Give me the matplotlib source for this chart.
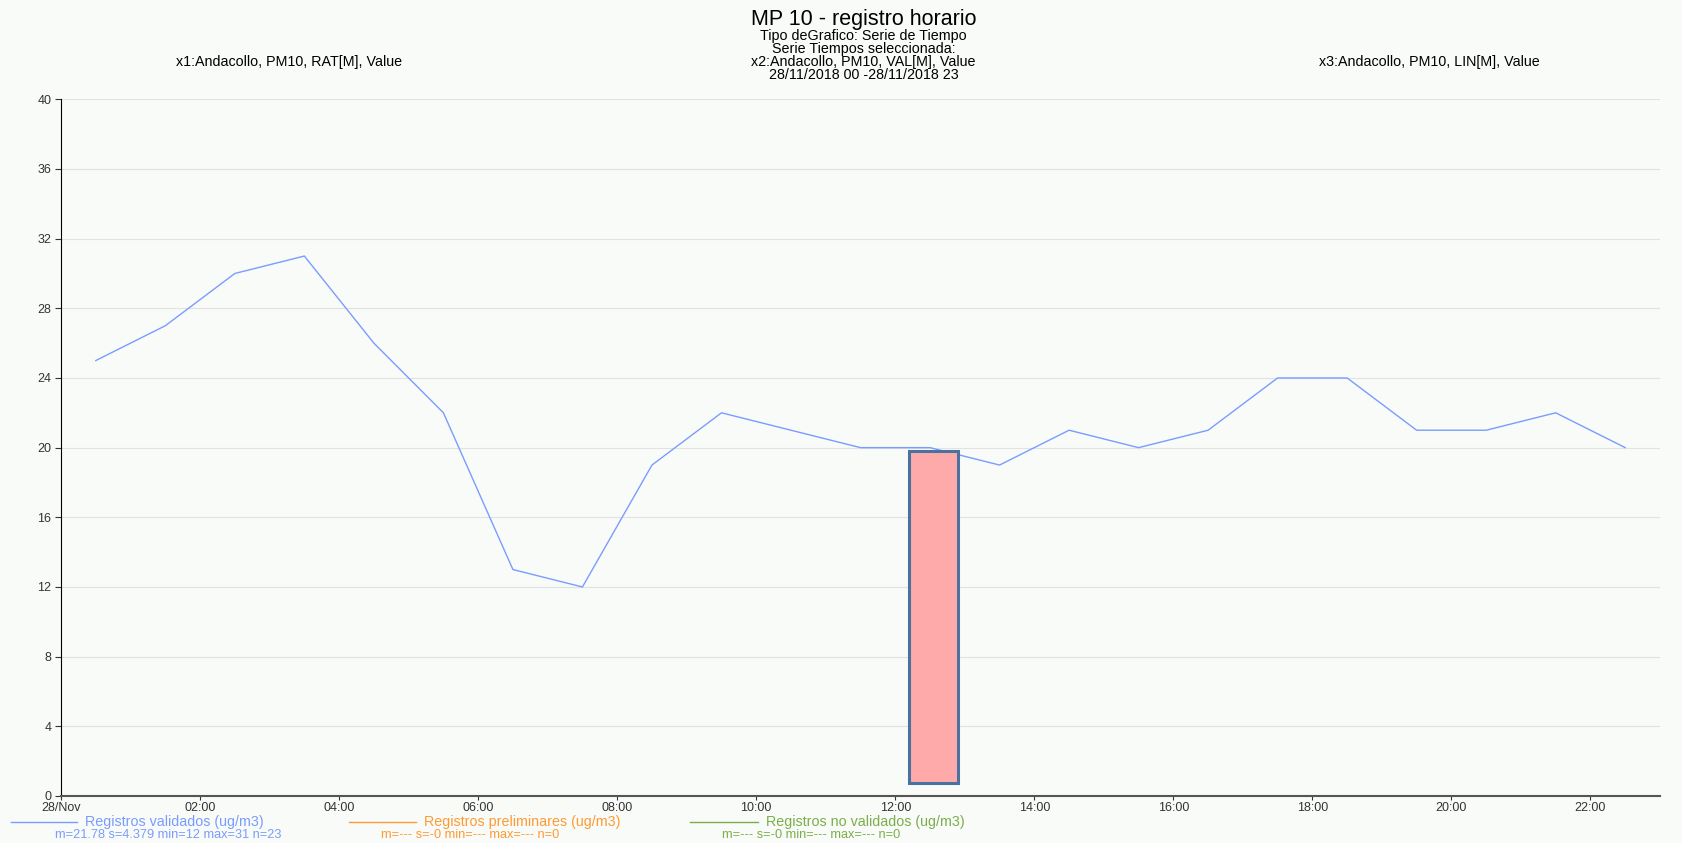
import matplotlib
matplotlib.use("Agg")
import matplotlib.pyplot as plt
import matplotlib.dates as mdates
from matplotlib.patches import Rectangle
from matplotlib.lines import Line2D
import pandas as pd

plt.rcParams['font.family'] = ['Liberation Sans', 'DejaVu Sans']

# hourly PM10 values, 28/11/2018 (timestamps at half past each hour)
times = pd.date_range('2018-11-28 00:30', periods=23, freq='h')
pm10 = [25, 27, 30, 31, 26, 22, 13, 12, 19, 22, 21, 20,
        20, 19, 21, 20, 21, 24, 24, 21, 21, 22, 20]

# highlighted box (selection marker)
box_start = pd.Timestamp('2018-11-28 12:12')
box_end = pd.Timestamp('2018-11-28 12:54')
box_low, box_high = 0.73, 19.8

xticks = pd.date_range('2018-11-28 00:00', periods=12, freq='2h')
xticklabels = ['28/Nov'] + [t.strftime('%H:%M') for t in xticks[1:]]
yticks = [0, 4, 8, 12, 16, 20, 24, 28, 32, 36, 40]

legend_names = ['Registros validados (ug/m3)', 'Registros preliminares (ug/m3)',
                'Registros no validados (ug/m3)']
legend_stats = ['m=21.78 s=4.379 min=12 max=31 n=23', 'm=--- s=-0 min=--- max=--- n=0',
                'm=--- s=-0 min=--- max=--- n=0']
legend_colors = ['#7a9cff', '#ff9a33', '#7aae4a']

bg = '#f9fbf8'
fig = plt.figure(figsize=(16.82, 8.43), dpi=100, facecolor=bg)
ax = fig.add_axes([0.0363, 0.0558, 0.9506, 0.8264], facecolor=bg)

ax.plot(times, pm10, color=legend_colors[0], lw=1.0)
x0 = mdates.date2num(box_start)
x1 = mdates.date2num(box_end)
ax.add_patch(Rectangle((x0, box_low), x1 - x0, box_high - box_low,
                       facecolor='#ffaaaa', edgecolor='#4a72a0', lw=2.2, zorder=3))

ax.set_xlim(pd.Timestamp('2018-11-28 00:00'), pd.Timestamp('2018-11-28 23:00'))
ax.set_ylim(0, 40)
ax.set_yticks(yticks)
ax.set_xticks(xticks)
ax.set_xticklabels(xticklabels)
ax.grid(axis='y', color='#e2e2e2', lw=0.8)
ax.set_axisbelow(True)
for s in ['top', 'right']:
    ax.spines[s].set_visible(False)
ax.spines['left'].set_color('black')
ax.spines['bottom'].set_color('#555555')
ax.spines['bottom'].set_linewidth(1.5)
ax.tick_params(labelsize=9, colors='#333333', length=4)
ax.tick_params(axis='x', pad=1, length=3)
ax.tick_params(axis='y', pad=3)

# titles
cx = 0.5135
fig.text(cx, 0.977, 'MP 10 - registro horario', ha='center', va='center', fontsize=15.5)
fig.text(cx, 0.957, 'Tipo deGrafico: Serie de Tiempo', ha='center', va='center', fontsize=10.3)
fig.text(cx, 0.942, 'Serie Tiempos seleccionada:', ha='center', va='center', fontsize=10.3)
fig.text(cx, 0.927, 'x2:Andacollo, PM10, VAL[M], Value', ha='center', va='center', fontsize=10.3)
fig.text(cx, 0.911, '28/11/2018 00 -28/11/2018 23', ha='center', va='center', fontsize=10.3)
fig.text(0.172, 0.927, 'x1:Andacollo, PM10, RAT[M], Value', ha='center', va='center', fontsize=10.3)
fig.text(0.850, 0.927, 'x3:Andacollo, PM10, LIN[M], Value', ha='center', va='center', fontsize=10.3)

# legend
line_x = [(0.0065, 0.0458), (0.2075, 0.2473), (0.4102, 0.4507)]
stat_x = [0.100, 0.2794, 0.482]
for (a, b), sx, name, stat, c in zip(line_x, stat_x, legend_names, legend_stats, legend_colors):
    fig.add_artist(Line2D([a, b], [0.0255, 0.0255], color=c, lw=1.0, transform=fig.transFigure))
    fig.text(b + 0.0045, 0.0255, name, color=c, fontsize=10.3, va='center', ha='left')
    fig.text(sx, 0.0095, stat, color=c, fontsize=9.2, va='center', ha='center')

fig.savefig('out.png', dpi=100, facecolor=bg)
